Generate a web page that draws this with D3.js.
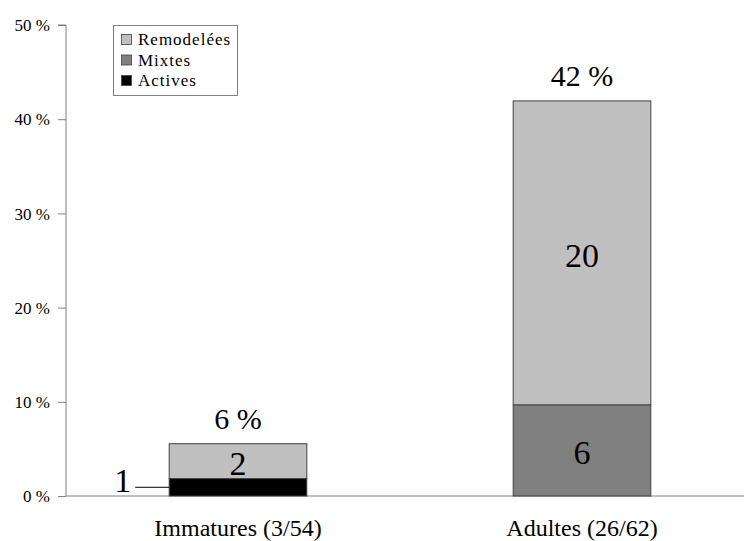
<!DOCTYPE html>
<html><head><meta charset="utf-8">
<script src="https://cdn.jsdelivr.net/npm/d3@7"></script>
<style>body{margin:0;background:#fff}svg{display:block}</style>
</head><body>
<svg id="c" width="744" height="541" style="font-family:'Liberation Serif'"></svg>
<script>
const categories = ["Immatures (3/54)", "Adultes (26/62)"];
const seriesNames = ["Actives", "Mixtes", "Remodelées"];
const actives = [1.85, 0];
const mixtes = [0, 9.68];
const remodelees = [3.70, 32.26];
const counts = { Actives: [1, 0], Mixtes: [0, 6], "Remodelées": [2, 20] };
const totalLabels = ["6 %", "42 %"];
const yTicks = [0, 10, 20, 30, 40, 50];
const legendOrder = ["Remodelées", "Mixtes", "Actives"];
const colors = { Actives: "#000000", Mixtes: "#808080", "Remodelées": "#c0c0c0" };
const FONT = "'Liberation Serif'";

const svg = d3.select("#c");
const y = d3.scaleLinear().domain([0, 50]).range([496, 25]);
const x = d3.scaleBand().domain(categories).range([66, 754]).paddingInner(0.6).paddingOuter(0.3);

const rows = categories.map((c, i) => ({ cat: c, Actives: actives[i], Mixtes: mixtes[i], "Remodelées": remodelees[i] }));
const stacked = d3.stack().keys(seriesNames)(rows);

// axes
const yAxis = svg.append("g").attr("transform", "translate(66,0)")
  .call(d3.axisLeft(y).tickValues(yTicks).tickFormat(d => d + " %").tickSize(8).tickPadding(8))
  .attr("font-family", null).attr("font-size", null);
yAxis.select(".domain").attr("stroke", "#808080").attr("d", `M-8,${y(50)}H0V${y(0)}`);
yAxis.selectAll(".tick line").attr("stroke", "#808080");
yAxis.selectAll(".tick text").attr("fill", "#000").attr("dy", "0.34em")
  .style("font-family", FONT).style("font-size", "17px");

const xAxis = svg.append("g").attr("transform", `translate(0,${y(0)})`)
  .call(d3.axisBottom(x).tickSize(0).tickPadding(0))
  .attr("font-family", null).attr("font-size", null);
xAxis.select(".domain").attr("stroke", "#808080").attr("d", `M66,0H744`);
xAxis.selectAll(".tick text").attr("fill", "#000").attr("dy", null).attr("y", 40)
  .style("font-family", FONT).style("font-size", "24px");

// bars
stacked.forEach(s => {
  svg.append("g").selectAll("rect").data(s.filter(d => d[1] - d[0] > 0)).join("rect")
    .attr("x", d => x(d.data.cat)).attr("width", x.bandwidth())
    .attr("y", d => y(d[1])).attr("height", d => y(d[0]) - y(d[1]))
    .attr("fill", colors[s.key]).attr("stroke", "#404040").attr("stroke-width", 1);
});

// segment labels
stacked.forEach(s => {
  s.forEach((d, i) => {
    const n = counts[s.key][i];
    if (!n) return;
    const cx = x(d.data.cat) + x.bandwidth() / 2;
    const cy = (y(d[0]) + y(d[1])) / 2;
    if (s.key === "Actives") {
      svg.append("line").attr("x1", x(d.data.cat) - 34).attr("x2", x(d.data.cat))
        .attr("y1", cy).attr("y2", cy).attr("stroke", "#000").attr("stroke-width", 1);
      svg.append("text").attr("x", x(d.data.cat) - 38).attr("y", cy + 5).attr("text-anchor", "end")
        .style("font-family", FONT).style("font-size", "34px").text(n);
    } else {
      svg.append("text").attr("x", cx).attr("y", cy + 14).attr("text-anchor", "middle")
        .style("font-family", FONT).style("font-size", "34px").text(n);
    }
  });
});

// totals
const last = stacked[stacked.length - 1];
last.forEach((d, i) => {
  svg.append("text").attr("x", x(d.data.cat) + x.bandwidth() / 2).attr("y", y(d[1]) - 15)
    .attr("text-anchor", "middle").style("font-family", FONT).style("font-size", "30px").text(totalLabels[i]);
});

// legend
const lg = svg.append("g").attr("transform", "translate(113,25)");
lg.append("rect").attr("x", 0.5).attr("y", 0.5).attr("width", 124).attr("height", 70).attr("fill", "#fff").attr("stroke", "#808080");
legendOrder.forEach((k, i) => {
  const base = 20 + i * 20.5;
  lg.append("rect").attr("x", 8.5).attr("y", base - 10.5).attr("width", 10).attr("height", 10)
    .attr("fill", colors[k]).attr("stroke", "#404040").attr("stroke-width", 0.8);
  lg.append("text").attr("x", 25).attr("y", base)
    .style("font-family", FONT).style("font-size", "17px").style("letter-spacing", "1px").text(k);
});
</script>
</body></html>
